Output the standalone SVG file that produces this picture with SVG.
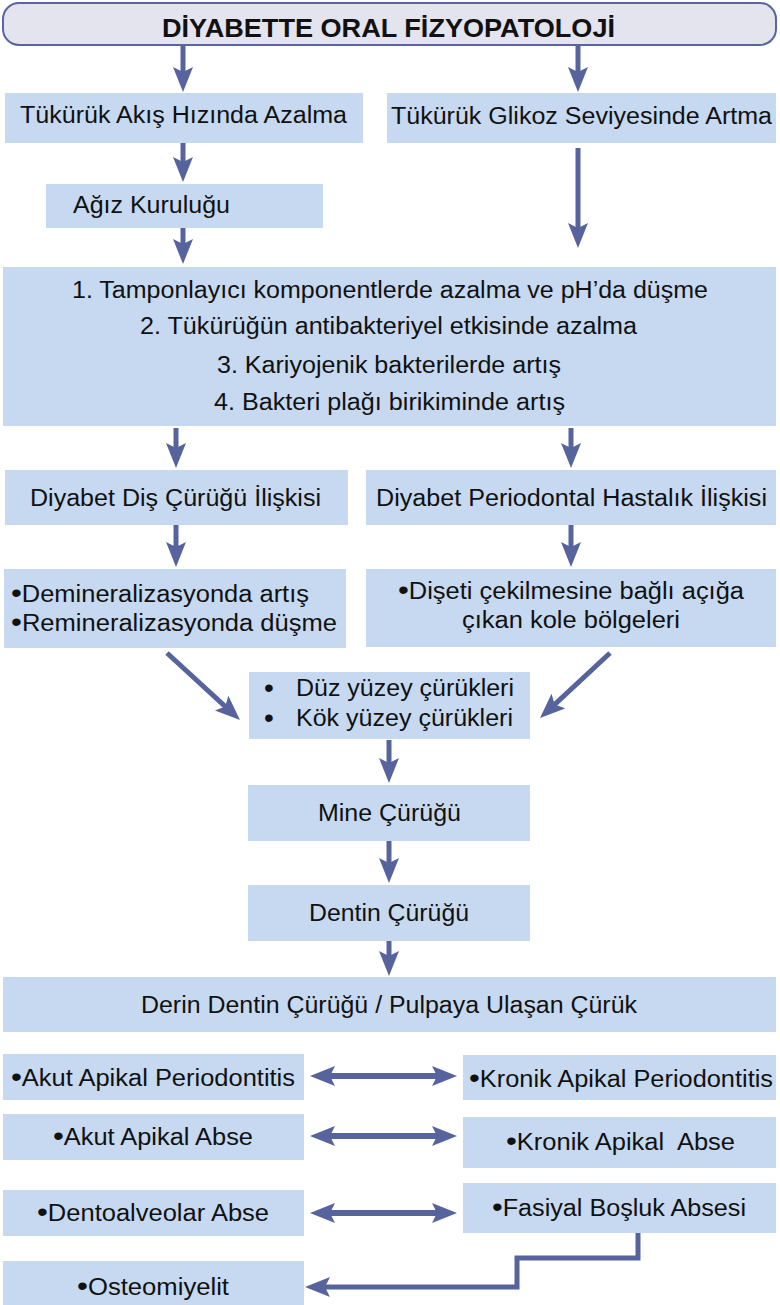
<svg xmlns="http://www.w3.org/2000/svg" width="780" height="1305" viewBox="0 0 780 1305">
<defs>
<style>
.box{fill:#c6d9f0;stroke:none}
.title{fill:#e4e4ee;stroke:#5a64a0;stroke-width:2}
text{font-family:"Liberation Sans",Arial,sans-serif;font-size:23px;fill:#111}
.tt{font-size:26px;font-weight:bold}
.b{font-size:28px}
.c{fill:none;stroke:#56639d;stroke-width:5}
.d{fill:none;stroke:#56639d;stroke-width:6}
</style>
<marker id="ah" markerUnits="userSpaceOnUse" viewBox="0 0 25 20" markerWidth="25" markerHeight="20" refX="17" refY="10" orient="auto-start-reverse">
<path d="M0,0 L25,10 L0,20 L5,10 Z" fill="#56639d"/>
</marker>
</defs>
<rect width="780" height="1305" fill="#ffffff"/>

<g id="connectors">
<line class="c" x1="183" y1="46" x2="183" y2="84" marker-end="url(#ah)"/>
<line class="c" x1="578" y1="46" x2="578" y2="84" marker-end="url(#ah)"/>
<line class="c" x1="183" y1="143" x2="183" y2="174" marker-end="url(#ah)"/>
<line class="c" x1="578" y1="148" x2="578" y2="240" marker-end="url(#ah)"/>
<line class="c" x1="183" y1="228" x2="183" y2="256" marker-end="url(#ah)"/>
<line class="c" x1="176" y1="428" x2="176" y2="460" marker-end="url(#ah)"/>
<line class="c" x1="571" y1="428" x2="571" y2="460" marker-end="url(#ah)"/>
<line class="c" x1="176" y1="525" x2="176" y2="559" marker-end="url(#ah)"/>
<line class="c" x1="571" y1="525" x2="571" y2="559" marker-end="url(#ah)"/>
<line class="c" x1="167" y1="653" x2="234.1" y2="714.6" marker-end="url(#ah)"/>
<line class="c" x1="610" y1="653" x2="545.9" y2="712.6" marker-end="url(#ah)"/>
<line class="c" x1="389" y1="740" x2="389" y2="775" marker-end="url(#ah)"/>
<line class="c" x1="389" y1="841" x2="389" y2="875" marker-end="url(#ah)"/>
<line class="c" x1="389" y1="941" x2="389" y2="968" marker-end="url(#ah)"/>
<line class="d" x1="318" y1="1076" x2="449" y2="1076" marker-start="url(#ah)" marker-end="url(#ah)"/>
<line class="d" x1="318" y1="1136" x2="449" y2="1136" marker-start="url(#ah)" marker-end="url(#ah)"/>
<line class="d" x1="318" y1="1213" x2="449" y2="1213" marker-start="url(#ah)" marker-end="url(#ah)"/>
<polyline class="c" points="638,1233 638,1258 517,1258 517,1287 313,1287" marker-end="url(#ah)"/>
</g>

<g id="title">
<rect class="title" x="3" y="3" width="773" height="42" rx="16"/>
<text class="tt" x="162" y="37" textLength="453" lengthAdjust="spacingAndGlyphs">DİYABETTE ORAL FİZYOPATOLOJİ</text>
</g>

<g id="n-akis">
<rect class="box" x="5" y="93" width="358" height="50"/>
<text x="20" y="123" textLength="327" lengthAdjust="spacingAndGlyphs">Tükürük Akış Hızında Azalma</text>
</g>

<g id="n-glikoz">
<rect class="box" x="387" y="93" width="389" height="50"/>
<text x="391" y="124" textLength="381" lengthAdjust="spacingAndGlyphs">Tükürük Glikoz Seviyesinde Artma</text>
</g>

<g id="n-kuruluk">
<rect class="box" x="46" y="184" width="277" height="44"/>
<text x="73" y="213" textLength="157" lengthAdjust="spacingAndGlyphs">Ağız Kuruluğu</text>
</g>

<g id="n-etkiler">
<rect class="box" x="3" y="267" width="773" height="159"/>
<text x="72" y="298" textLength="636" lengthAdjust="spacingAndGlyphs">1. Tamponlayıcı komponentlerde azalma ve pH’da düşme</text>
<text x="140" y="334" textLength="497" lengthAdjust="spacingAndGlyphs">2. Tükürüğün antibakteriyel etkisinde azalma</text>
<text x="217" y="373" textLength="344" lengthAdjust="spacingAndGlyphs">3. Kariyojenik bakterilerde artış</text>
<text x="214" y="410" textLength="351" lengthAdjust="spacingAndGlyphs">4. Bakteri plağı birikiminde artış</text>
</g>

<g id="n-curuk-iliski">
<rect class="box" x="5" y="470" width="343" height="55"/>
<text x="30" y="506" textLength="291" lengthAdjust="spacingAndGlyphs">Diyabet Diş Çürüğü İlişkisi</text>
</g>

<g id="n-perio-iliski">
<rect class="box" x="366" y="470" width="410" height="55"/>
<text x="376" y="506" textLength="391" lengthAdjust="spacingAndGlyphs">Diyabet Periodontal Hastalık İlişkisi</text>
</g>

<g id="n-demin">
<rect class="box" x="4" y="569" width="342" height="79"/>
<text x="11" y="602" textLength="298" lengthAdjust="spacingAndGlyphs"><tspan class="b">•</tspan>Demineralizasyonda artış</text>
<text x="11" y="631" textLength="326" lengthAdjust="spacingAndGlyphs"><tspan class="b">•</tspan>Remineralizasyonda düşme</text>
</g>

<g id="n-diseti">
<rect class="box" x="366" y="569" width="410" height="78"/>
<text x="398" y="599" textLength="346" lengthAdjust="spacingAndGlyphs"><tspan class="b">•</tspan>Dişeti çekilmesine bağlı açığa</text>
<text x="462" y="628" textLength="218" lengthAdjust="spacingAndGlyphs">çıkan kole bölgeleri</text>
</g>

<g id="n-yuzey">
<rect class="box" x="249" y="672" width="281" height="67"/>
<text class="b" x="264" y="697">•</text>
<text x="296" y="696" textLength="218" lengthAdjust="spacingAndGlyphs">Düz yüzey çürükleri</text>
<text class="b" x="264" y="727">•</text>
<text x="296" y="726" textLength="217" lengthAdjust="spacingAndGlyphs">Kök yüzey çürükleri</text>
</g>

<g id="n-mine">
<rect class="box" x="248" y="785" width="282" height="56"/>
<text x="318" y="821" textLength="143" lengthAdjust="spacingAndGlyphs">Mine Çürüğü</text>
</g>

<g id="n-dentin">
<rect class="box" x="248" y="885" width="282" height="56"/>
<text x="309" y="921" textLength="160" lengthAdjust="spacingAndGlyphs">Dentin Çürüğü</text>
</g>

<g id="n-derin">
<rect class="box" x="3" y="977" width="773" height="55"/>
<text x="141" y="1013" textLength="496" lengthAdjust="spacingAndGlyphs">Derin Dentin Çürüğü / Pulpaya Ulaşan Çürük</text>
</g>

<g id="n-akut-perio">
<rect class="box" x="3" y="1054" width="301" height="46"/>
<text x="11" y="1086" textLength="284" lengthAdjust="spacingAndGlyphs"><tspan class="b">•</tspan>Akut Apikal Periodontitis</text>
</g>

<g id="n-kronik-perio">
<rect class="box" x="463" y="1055" width="313" height="45"/>
<text x="469" y="1087" textLength="304" lengthAdjust="spacingAndGlyphs"><tspan class="b">•</tspan>Kronik Apikal Periodontitis</text>
</g>

<g id="n-akut-abse">
<rect class="box" x="3" y="1114" width="301" height="46"/>
<text x="53" y="1145" textLength="200" lengthAdjust="spacingAndGlyphs"><tspan class="b">•</tspan>Akut Apikal Abse</text>
</g>

<g id="n-kronik-abse">
<rect class="box" x="463" y="1117" width="313" height="51"/>
<text x="506" y="1150" textLength="229" lengthAdjust="spacingAndGlyphs" xml:space="preserve"><tspan class="b">•</tspan>Kronik Apikal  Abse</text>
</g>

<g id="n-dentoalveolar">
<rect class="box" x="3" y="1190" width="301" height="46"/>
<text x="37" y="1221" textLength="232" lengthAdjust="spacingAndGlyphs"><tspan class="b">•</tspan>Dentoalveolar Abse</text>
</g>

<g id="n-fasiyal">
<rect class="box" x="463" y="1183" width="313" height="50"/>
<text x="492" y="1216" textLength="254" lengthAdjust="spacingAndGlyphs"><tspan class="b">•</tspan>Fasiyal Boşluk Absesi</text>
</g>

<g id="n-osteomiyelit">
<rect class="box" x="3" y="1261" width="301" height="44"/>
<text x="77" y="1295" textLength="152" lengthAdjust="spacingAndGlyphs"><tspan class="b">•</tspan>Osteomiyelit</text>
</g>
</svg>
